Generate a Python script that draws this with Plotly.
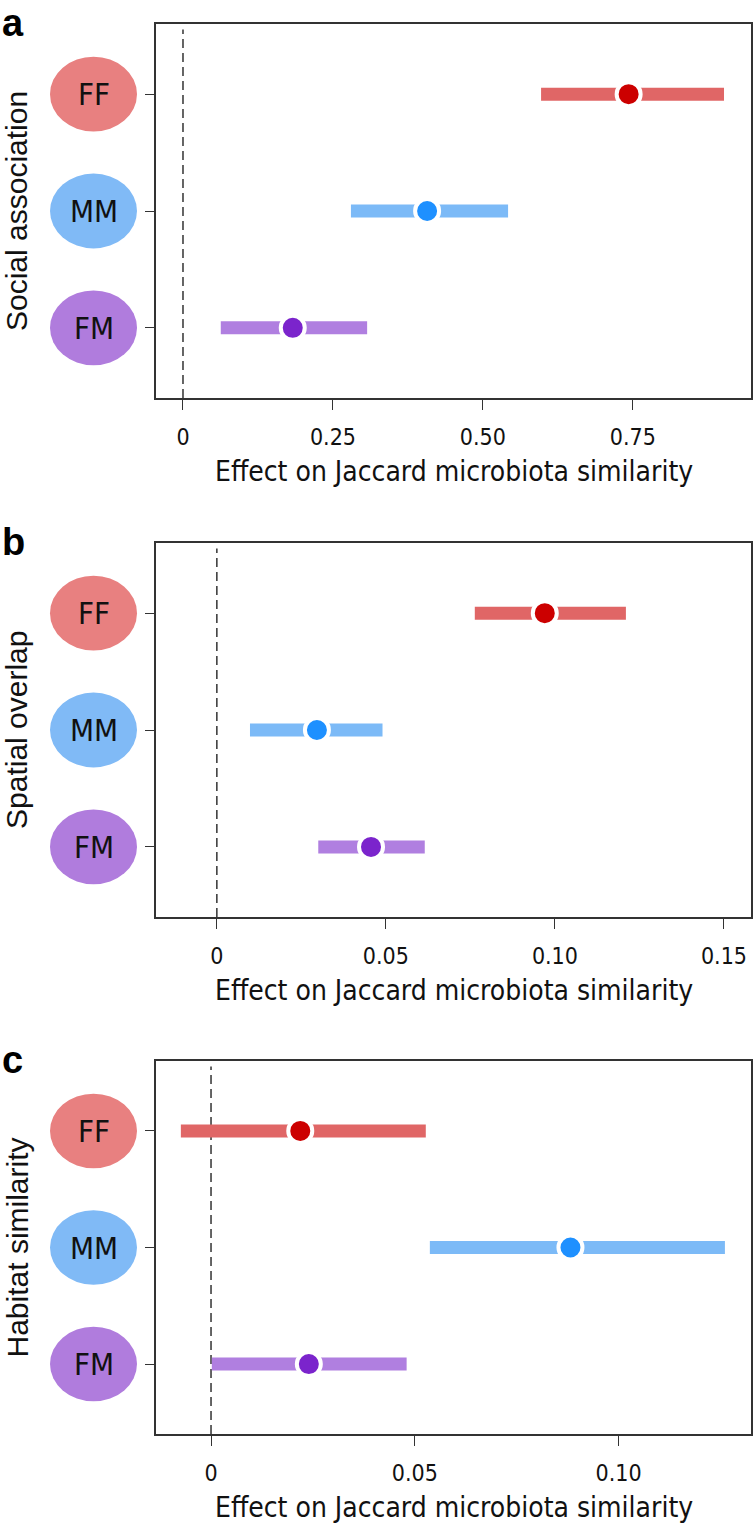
import plotly.graph_objects as go

# ---------------- data ----------------
groups = ["FF", "MM", "FM"]
group_pos = [3, 2, 1]

panel_titles = ["Social association", "Spatial overlap", "Habitat similarity"]
panel_letters = ["a", "b", "c"]
x_title = "Effect on Jaccard microbiota similarity"

social_est = [0.743, 0.407, 0.183]
social_lo = [0.597, 0.280, 0.063]
social_hi = [0.902, 0.542, 0.307]

spatial_est = [0.0970, 0.0296, 0.0456]
spatial_lo = [0.0763, 0.0098, 0.0300]
spatial_hi = [0.1210, 0.0490, 0.0615]

habitat_est = [0.0219, 0.0882, 0.0240]
habitat_lo = [-0.0074, 0.0537, 0.0002]
habitat_hi = [0.0527, 0.1261, 0.0480]

ticks_a = [0, 0.25, 0.50, 0.75]
ticklabels_a = ["0", "0.25", "0.50", "0.75"]
ticks_b = [0, 0.05, 0.10, 0.15]
ticklabels_b = ["0", "0.05", "0.10", "0.15"]
ticks_c = [0, 0.05, 0.10]
ticklabels_c = ["0", "0.05", "0.10"]

# ---------------- style ----------------
W, H = 753, 1527
bar_colors = ["#E06666", "#7CBAF7", "#B07FE0"]
point_colors = ["#CC0000", "#1E90FF", "#7B24CC"]
ellipse_colors = ["#E88080", "#80BAF6", "#B07CDD"]

cond_font = "Liberation Sans Narrow, DejaVu Sans Condensed, Roboto, sans-serif"
reg_font = "Liberation Sans, Arial, sans-serif"

panels = [
    dict(est=social_est, lo=social_lo, hi=social_hi, ticks=ticks_a, labels=ticklabels_a,
         xr=[-0.045, 0.947], top=24, bottom=398),
    dict(est=spatial_est, lo=spatial_lo, hi=spatial_hi, ticks=ticks_b, labels=ticklabels_b,
         xr=[-0.018, 0.158], top=543, bottom=917),
    dict(est=habitat_est, lo=habitat_lo, hi=habitat_hi, ticks=ticks_c, labels=ticklabels_c,
         xr=[-0.0135, 0.1325], top=1061, bottom=1434),
]

x_left, x_right = 156, 751

fig = go.Figure()
annotations = []
shapes = []

for i, p in enumerate(panels):
    n = "" if i == 0 else str(i + 1)
    xa, ya = "x" + n, "y" + n
    # intervals
    for g in range(3):
        fig.add_trace(go.Scatter(
            x=[p["lo"][g], p["hi"][g]], y=[group_pos[g], group_pos[g]],
            mode="lines", line=dict(color=bar_colors[g], width=13),
            xaxis=xa, yaxis=ya, showlegend=False, hoverinfo="skip"))
    # estimates
    fig.add_trace(go.Scatter(
        x=p["est"], y=group_pos, mode="markers",
        marker=dict(color=point_colors, size=24, line=dict(color="white", width=4)),
        xaxis=xa, yaxis=ya, showlegend=False))
    # zero line
    shapes.append(dict(type="line", xref=xa, yref=ya + " domain", x0=0, x1=0, y0=0, y1=0.985,
                       line=dict(color="#333333", width=1.5, dash="9px,5px"), layer="below"))
    # axes
    dom_y = [1 - p["bottom"] / H, 1 - p["top"] / H]
    xkey = "xaxis" + n
    ykey = "yaxis" + n
    fig.layout[xkey] = dict(
        domain=[x_left / W, x_right / W], range=p["xr"], anchor=ya,
        tickvals=p["ticks"], ticktext=p["labels"], ticks="outside", ticklen=10,
        tickcolor="#333333", tickwidth=1.2, showline=True, linecolor="#333333", linewidth=1.5,
        mirror=True, showgrid=False, zeroline=False, ticklabelstandoff=8,
        tickfont=dict(family=cond_font, size=23, color="#111111"))
    fig.layout[ykey] = dict(
        domain=dom_y, range=[0.4, 3.6], anchor=xa,
        tickvals=group_pos, ticktext=["", "", ""], ticks="outside", ticklen=9,
        tickcolor="#333333", tickwidth=1.2, showline=True, linecolor="#333333", linewidth=1.5,
        mirror=True, showgrid=False, zeroline=False)
    # group ellipses + labels
    for g in range(3):
        shapes.append(dict(type="circle", xref="paper", yref=ya,
                           x0=50 / W, x1=137 / W, y0=group_pos[g] - 0.32, y1=group_pos[g] + 0.32,
                           fillcolor=ellipse_colors[g], line=dict(width=0), layer="above"))
        annotations.append(dict(xref="paper", yref=ya, x=93.5 / W, y=group_pos[g],
                                xanchor="center", yanchor="middle",
                                text=groups[g], showarrow=False,
                                font=dict(family=cond_font, size=31, color="#111111")))
    # y title
    annotations.append(dict(xref="paper", yref="paper", x=17 / W,
                            y=1 - (p["top"] + p["bottom"]) / 2 / H,
                            xanchor="center", yanchor="middle",
                            text=panel_titles[i], textangle=-90, showarrow=False,
                            font=dict(family=reg_font, size=30, color="#111111")))
    # x title
    annotations.append(dict(xref="paper", yref="paper", x=(x_left + x_right) / 2 / W,
                            y=1 - (p["bottom"] + 73) / H, xanchor="center", yanchor="middle",
                            text=x_title, showarrow=False,
                            font=dict(family=cond_font, size=28, color="#111111")))
    # panel letter
    annotations.append(dict(xref="paper", yref="paper", x=0, xanchor="left",
                            y=1 - (p["top"] - 1) / H, yanchor="middle",
                            text="<b>" + panel_letters[i] + "</b>", showarrow=False,
                            font=dict(family=reg_font, size=38, color="#000000")))

fig.update_layout(
    width=W, height=H, margin=dict(l=0, r=0, t=0, b=0),
    paper_bgcolor="white", plot_bgcolor="white",
    shapes=shapes, annotations=annotations, showlegend=False)

fig.write_html("out.html", config={"displayModeBar": False})

# remove the browser's default page margin so the figure fills the window exactly
with open("out.html", "r", encoding="utf-8") as fh:
    html = fh.read()
html = html.replace("<head>", "<head><style>html,body{margin:0;padding:0;}</style>", 1)
with open("out.html", "w", encoding="utf-8") as fh:
    fh.write(html)
